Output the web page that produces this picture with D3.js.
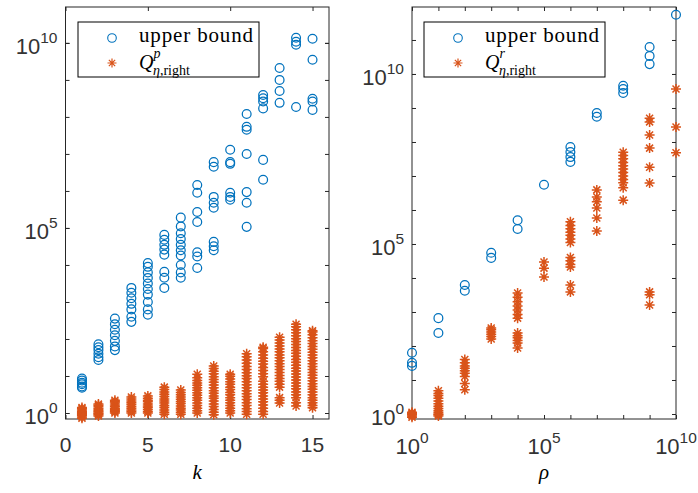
<!DOCTYPE html>
<html>
<head>
<meta charset="utf-8">
<script src="https://cdn.jsdelivr.net/npm/d3@7"></script>
<style>
body { margin: 0; background: #fff; }
svg { display: block; }
.lbl { font-family: "Liberation Sans", Arial, sans-serif; fill: #333; }
.leg { font-family: "Liberation Serif", "Times New Roman", serif; fill: #000; }
</style>
</head>
<body>
<svg id="chart" width="698" height="493"></svg>
<script>
// ---- data ----
const kValues = [1, 2, 3, 4, 5, 6, 7, 8, 9, 10, 11, 12, 13, 14, 15];

// upper bound, one list per k
const upperK = [
    [4.8, 5.2, 6.0, 6.6, 7.6, 8.5],
    [27, 32, 40, 50, 60, 72],
    [50, 63, 89, 126, 178, 251, 355],
    [290, 400, 630, 890, 1260, 1780, 2400],
    [450, 630, 1000, 1580, 2240, 3160, 4470, 6300, 8900, 11200],
    [6.5e4, 4.8e4, 3.5e4, 2.6e4, 1.9e4, 6500, 4500, 2400],
    [1.9e5, 1.1e5, 7.2e4, 5.0e4, 3.5e4, 2.5e4, 1.8e4, 1.0e4, 6300, 4500],
    [1.45e6, 8.9e5, 2.7e5, 1.45e5, 2.2e4, 1.7e4, 8300],
    [6.0e6, 4.5e6, 6.9e5, 4.8e5, 3.5e5, 4.2e4, 3.2e4, 2.5e4],
    [1.3e7, 6.0e6, 5.4e6, 8.9e5, 6.9e5, 5.8e5],
    [1.2e8, 5.4e7, 4.5e7, 1.0e7, 9.3e5, 4.8e5, 1.07e5],
    [3.9e8, 3.2e8, 2.6e8, 1.7e8, 6.9e6, 2.0e6],
    [2.1e9, 1.0e9, 5.0e8, 2.4e8],
    [1.38e10, 1.07e10, 8.9e9, 1.86e8],
    [1.29e10, 3.5e9, 3.1e8, 2.6e8, 1.55e8]
];

// Q^p_{eta,right}, one list per k
const qK = [
    [0.72, 0.78, 0.85, 0.9, 0.95, 1.0, 1.05, 1.12, 1.2, 1.3, 1.4],
    [0.83, 0.9, 0.95, 1.0, 1.08, 1.15, 1.25, 1.35, 1.5, 1.62, 1.74],
    [1.0, 1.08, 1.15, 1.25, 1.35, 1.5, 1.65, 1.85, 2.0, 2.2],
    [1.0, 1.1, 1.2, 1.35, 1.5, 1.7, 1.9, 2.1, 2.4, 2.7],
    [1.0, 1.1, 1.25, 1.4, 1.55, 1.75, 2.0, 2.2, 2.5, 2.9],
    [0.93, 1.05, 1.2, 1.4, 1.6, 1.85, 2.1, 2.4, 2.8, 3.2, 3.7, 4.3, 5.0],
    [0.93, 1.05, 1.2, 1.35, 1.55, 1.8, 2.05, 2.35, 2.7, 3.1, 3.6, 4.2],
    [1.0, 1.15, 1.35, 1.6, 1.85, 2.2, 2.6, 3.0, 3.5, 4.1, 4.8, 5.6, 6.5, 7.6, 9.0, 11.2],
    [0.9, 1.05, 1.25, 1.5, 1.75, 2.1, 2.5, 2.9, 3.4, 4.0, 4.8, 5.7, 6.8, 8.0, 9.5, 11.5, 13.5, 16, 18.6],
    [1.0, 1.15, 1.35, 1.6, 1.9, 2.2, 2.6, 3.1, 3.6, 4.3, 5.0, 6.0, 7.0, 8.3, 9.8, 11.2],
    [0.93, 1.1, 1.3, 1.6, 1.9, 2.3, 2.8, 3.3, 4.0, 4.8, 5.8, 7.0, 8.5, 10.2, 12.3, 15, 18, 22, 27, 33, 40],
    [0.93, 1.1, 1.35, 1.65, 2.0, 2.4, 2.9, 3.5, 4.2, 5.0, 6.0, 7.2, 9.5, 11.5, 14, 17, 21, 25, 30, 37, 45, 55, 60],
    [1.86, 2.2, 2.6, 5.0, 6.0, 7.2, 8.6, 10.3, 12.4, 15, 18, 21.5, 26, 31, 37, 45, 54, 65, 78, 94, 112],
    [1.55, 1.9, 2.6, 3.1, 3.7, 4.5, 5.4, 6.5, 7.8, 9.4, 11.3, 13.6, 16.3, 19.6, 23.5, 28, 34, 41, 49, 59, 71, 85, 102, 123, 148, 178, 215, 250],
    [1.38, 1.6, 1.9, 2.2, 2.6, 3.1, 3.7, 4.4, 5.2, 6.2, 7.4, 8.8, 10.5, 12.5, 15, 18, 21.5, 26, 31, 37, 44, 53, 63, 76, 90, 108, 130, 155, 166]
];

const rhoValues = [1e0, 1e1, 1e2, 1e3, 1e4, 1e5, 1e6, 1e7, 1e8, 1e9, 1e10];

// upper bound, one list per rho
const upperRho = [
    [63, 32, 26],
    [660, 240],
    [6200, 4200],
    [5.5e4, 3.9e4],
    [5.0e5, 2.75e5],
    [5.5e6],
    [7.1e7, 5.1e7, 3.6e7, 2.6e7],
    [7.1e8, 5.5e8],
    [4.5e9, 3.6e9, 2.75e9],
    [6.2e10, 3.4e10, 1.95e10],
    [5.5e11]
];

// Q^r_{eta,right}, one list per rho
const qRho = [
    [0.8, 0.88, 0.95, 1.0, 1.05, 1.12],
    [0.87, 0.95, 1.0, 1.1, 1.25, 1.45, 1.7, 2.0, 2.4, 2.9, 3.5, 4.0, 4.8],
    [40, 32, 26, 22, 18.6, 15.8, 12.6, 7.9, 5.2],
    [340, 300, 260, 220, 190, 160],
    [3600, 2700, 2000, 1500, 1150, 850, 660, 240, 200, 174, 145, 123, 87],
    [2.95e4, 1.95e4, 1.07e4],
    [4.5e5, 3.5e5, 2.8e5, 2.2e5, 1.8e5, 1.4e5, 1.1e5, 4.0e4, 3.2e4, 2.5e4, 2.1e4, 6200, 3900],
    [3.9e6, 2.4e6, 1.74e6, 1.15e6, 5.8e5, 2.4e5],
    [5.0e7, 4.0e7, 3.2e7, 2.5e7, 2.0e7, 1.6e7, 1.26e7, 1.0e7, 7.9e6, 6.3e6, 4.5e6, 1.95e6],
    [5.0e8, 3.9e8, 1.6e8, 6.6e7, 1.8e7, 6.2e6, 3900, 3200, 1600],
    [3.6e9, 2.75e8, 4.8e7]
];

const kTicks = [0, 5, 10, 15];
const majorExp = [0, 5, 10];

// ---- drawing ----
const BLUE = "#0072BD";
const ORANGE = "#D95319";
const AXIS = "#262626";

const svg = d3.select("#chart");
svg.append("rect").attr("width", 698).attr("height", 493).attr("fill", "#fff");

function flat(xs, lists) {
    return lists.flatMap((vals, i) => vals.map(v => ({ x: xs[i], y: v })));
}

function starPath(s) {
    const d = s * 0.7;
    return `M${-s},0H${s}M0,${-s}V${s}M${-d},${-d}L${d},${d}M${-d},${d}L${d},${-d}`;
}

// "10" with a superscript exponent
function powLabel(g, x, y, e, anchor) {
    const t = g.append("text").attr("class", "lbl")
        .attr("x", x).attr("y", y)
        .attr("text-anchor", anchor)
        .style("font-size", "22px");
    t.append("tspan").text("10");
    t.append("tspan").attr("dy", -11).style("font-size", "15.5px").text(e);
}

function legend(g, x, y, sup) {
    g.append("rect").attr("x", x).attr("y", y).attr("width", 181).attr("height", 55)
        .attr("fill", "#fff").attr("stroke", "#000").attr("stroke-width", 1);
    g.append("circle").attr("cx", x + 34).attr("cy", y + 16).attr("r", 4.3)
        .attr("fill", "none").attr("stroke", BLUE).attr("stroke-width", 1.1);
    g.append("path").attr("transform", `translate(${x + 34},${y + 41})`)
        .attr("d", starPath(4.5)).attr("stroke", ORANGE).attr("stroke-width", 1.2);
    g.append("text").attr("class", "leg").attr("x", x + 61).attr("y", y + 20)
        .style("font-size", "21px").attr("textLength", 114).text("upper bound");
    const q = g.append("text").attr("class", "leg").attr("x", x + 61).attr("y", y + 47)
        .style("font-size", "20px");
    q.append("tspan").style("font-style", "italic").text("Q");
    q.append("tspan").attr("dy", -11).style("font-size", "14px").style("font-style", "italic").text(sup);
    q.append("tspan").attr("x", x + 75).attr("dy", 17).style("font-size", "14px").style("font-style", "italic").text("η");
    q.append("tspan").style("font-size", "14px").text(",right");
}

function panel(opt) {
    const { x, y, xMinor, yMinor, xMajor, yMajor, xLabel, logX } = opt;
    const [x0, x1] = x.range();
    const [y1, y0] = y.range();
    const g = svg.append("g");

    // ticks (inward, on all four sides)
    [[d3.axisBottom, y1], [d3.axisTop, y0]].forEach(([fn, pos]) => {
        g.append("g").attr("transform", `translate(0,${pos})`)
            .call(fn(x).tickValues(xMinor.concat(xMajor)).tickSize(-4).tickFormat(""))
            .call(a => a.select(".domain").remove())
            .call(a => a.selectAll("line").attr("stroke", AXIS));
    });
    [[d3.axisLeft, x0], [d3.axisRight, x1]].forEach(([fn, pos]) => {
        g.append("g").attr("transform", `translate(${pos},0)`)
            .call(fn(y).tickValues(yMinor.concat(yMajor)).tickSize(-4).tickFormat(""))
            .call(a => a.select(".domain").remove())
            .call(a => a.selectAll("line").attr("stroke", AXIS));
    });

    // box
    g.append("rect").attr("x", x0).attr("y", y0)
        .attr("width", x1 - x0).attr("height", y1 - y0)
        .attr("fill", "none").attr("stroke", AXIS).attr("stroke-width", 1);

    // y labels
    yMajor.forEach(v => powLabel(g, x0 - 8, y(v) + 11, Math.round(Math.log10(v)), "end"));

    // x labels
    if (logX) {
        xMajor.forEach(v => powLabel(g, x(v), 454, Math.round(Math.log10(v)), "middle"));
    } else {
        xMajor.forEach(v => g.append("text").attr("class", "lbl")
            .attr("x", x(v)).attr("y", 452).attr("text-anchor", "middle")
            .style("font-size", "21px").text(v));
    }

    g.append("text").attr("class", "leg")
        .attr("x", (x0 + x1) / 2).attr("y", 479).attr("text-anchor", "middle")
        .style("font-size", "21px").style("font-style", "italic").text(xLabel);

    // marks
    g.append("g").selectAll("circle").data(flat(opt.xs, opt.upper)).join("circle")
        .attr("cx", d => x(d.x)).attr("cy", d => y(d.y)).attr("r", 4.4)
        .attr("fill", "none").attr("stroke", BLUE).attr("stroke-width", 1.25);

    g.append("g").selectAll("path").data(flat(opt.xs, opt.q)).join("path")
        .attr("transform", d => `translate(${x(d.x)},${y(d.y)})`)
        .attr("d", starPath(5)).attr("fill", "none")
        .attr("stroke", ORANGE).attr("stroke-width", 1.5);

    legend(g, opt.legX, 22, opt.sup);
}

const decades = (a, b) => d3.range(a, b + 1).map(e => Math.pow(10, e));

panel({
    x: d3.scaleLinear([0, 16], [65.5, 329]),
    y: d3.scaleLog([Math.pow(10, -0.162), Math.pow(10, 10.97)], [419, 7]),
    xs: kValues, upper: upperK, q: qK,
    xMajor: kTicks, xMinor: [],
    yMajor: majorExp.map(e => Math.pow(10, e)),
    yMinor: decades(0, 10),
    xLabel: "k", logX: false, legX: 78, sup: "p"
});

panel({
    x: d3.scaleLog([1, 1e10], [412, 676]),
    y: d3.scaleLog([Math.pow(10, -0.147), Math.pow(10, 11.97)], [419, 7]),
    xs: rhoValues, upper: upperRho, q: qRho,
    xMajor: majorExp.map(e => Math.pow(10, e)),
    xMinor: decades(0, 10),
    yMajor: majorExp.map(e => Math.pow(10, e)),
    yMinor: decades(0, 11),
    xLabel: "ρ", logX: true, legX: 424, sup: "r"
});
</script>
</body>
</html>
